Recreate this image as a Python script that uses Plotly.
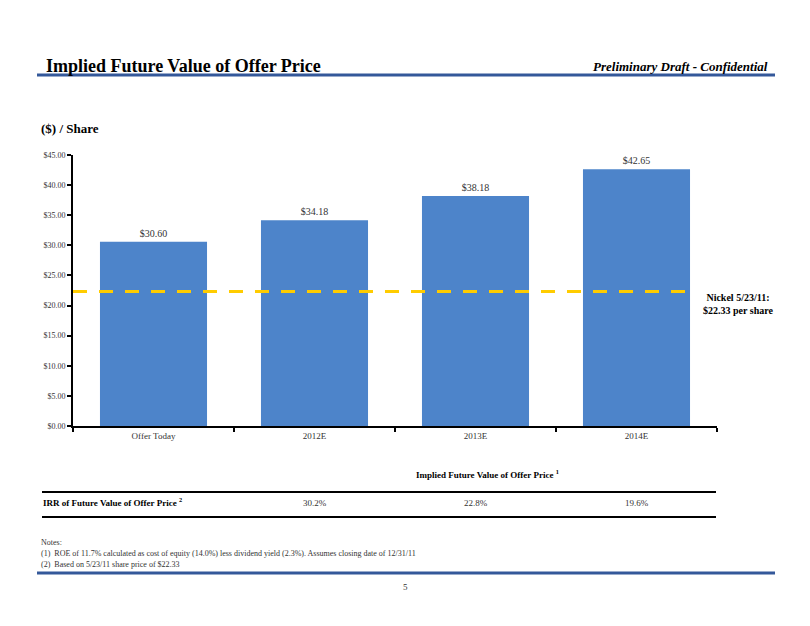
import plotly.graph_objects as go

categories = ["Offer Today", "2012E", "2013E", "2014E"]
values = [30.60, 34.18, 38.18, 42.65]
current_price = 22.33
irr_values = ["30.2%", "22.8%", "19.6%"]

W, H = 810, 626
OFF = 8  # default page body margin
L, R, T, B = 73, 717, 155, 426
FONT = "Liberation Serif"
BAR = "#4D84CA"
BLUE_RULE = "#34589A"


def px(x):
    return (x - L) / (R - L)


def py(y):
    return (B - y) / (B - T)


fig = go.Figure()
fig.add_trace(go.Bar(
    x=categories, y=values, width=0.665,
    marker=dict(color=BAR, line=dict(width=0)),
    text=[f"${v:.2f}" for v in values], textposition="outside",
    textfont=dict(family=FONT, size=10, color="#333333"),
    cliponaxis=False, hoverinfo="skip",
))

shapes = []
shapes.append(dict(type="line", xref="x", yref="y", x0=-0.5, x1=3.333, y0=current_price, y1=current_price,
                   line=dict(color="#FFCC00", width=3, dash="14px,12px")))
shapes.append(dict(type="line", xref="paper", yref="paper", x0=px(37), x1=px(775), y0=py(75), y1=py(75),
                   line=dict(color=BLUE_RULE, width=3)))
shapes.append(dict(type="line", xref="paper", yref="paper", x0=px(37), x1=px(775), y0=py(573), y1=py(573),
                   line=dict(color=BLUE_RULE, width=3)))
shapes.append(dict(type="line", xref="paper", yref="paper", x0=px(42), x1=px(716), y0=py(492), y1=py(492),
                   line=dict(color="black", width=2)))
shapes.append(dict(type="line", xref="paper", yref="paper", x0=px(42), x1=px(716), y0=py(517), y1=py(517),
                   line=dict(color="black", width=2)))

ann = []


def text(x, y, s, size, bold=False, italic=False, xanchor="left", color="black", align="left"):
    if bold:
        s = f"<b>{s}</b>"
    if italic:
        s = f"<i>{s}</i>"
    ann.append(dict(xref="paper", yref="paper", x=px(x), y=py(y), text=s, showarrow=False,
                    xanchor=xanchor, yanchor="middle", align=align,
                    font=dict(family=FONT, size=size, color=color)))


text(44, 66, "Implied Future Value of Offer Price", 18, bold=True)
text(770, 66, "Preliminary Draft - Confidential", 13, bold=True, italic=True, xanchor="right")
text(39, 128, "($) / Share", 13, bold=True)
text(738, 304, "Nickel 5/23/11:<br>$22.33 per share", 10, bold=True, xanchor="center", align="center")
text(487, 474, "Implied Future Value of Offer Price <sup>1</sup>", 9, bold=True, xanchor="center")
text(41, 502, "IRR of Future Value of Offer Price <sup>2</sup>", 9, bold=True)
for i, v in enumerate(irr_values):
    ann.append(dict(xref="x", yref="paper", x=categories[i + 1], y=py(503), text=v, showarrow=False,
                    xanchor="center", yanchor="middle", font=dict(family=FONT, size=9, color="#333333")))
text(39, 542, "Notes:", 8, color="#333333")
text(39, 553, "(1)  ROE of 11.7% calculated as cost of equity (14.0%) less dividend yield (2.3%). Assumes closing date of 12/31/11", 8, color="#333333")
text(39, 564, "(2)  Based on 5/23/11 share price of $22.33", 8, color="#333333")
text(405, 587, "5", 9, xanchor="center", color="#333333")

fig.update_layout(
    width=W - OFF, height=H - OFF,
    margin=dict(l=L - OFF, r=W - R, t=T - OFF, b=H - B),
    paper_bgcolor="white", plot_bgcolor="white", showlegend=False,
    shapes=shapes, annotations=ann, bargap=0.335,
    font=dict(family=FONT, color="#333333"),
)
fig.update_yaxes(range=[0, 45], dtick=5, tickprefix="$", tickformat=".2f", showgrid=False, zeroline=False,
                 showline=True, linecolor="black", linewidth=2, ticks="outside", ticklen=4, tickwidth=2,
                 tickcolor="black", tickfont=dict(family=FONT, size=8, color="#333333"))
fig.update_xaxes(type="category", range=[-0.5, 3.5], showgrid=False, showline=True, linecolor="black", linewidth=2,
                 ticks="outside", tickson="boundaries", ticklen=4, tickwidth=2, tickcolor="black",
                 tickfont=dict(family=FONT, size=9, color="#333333"))

fig.write_html("out.html")
